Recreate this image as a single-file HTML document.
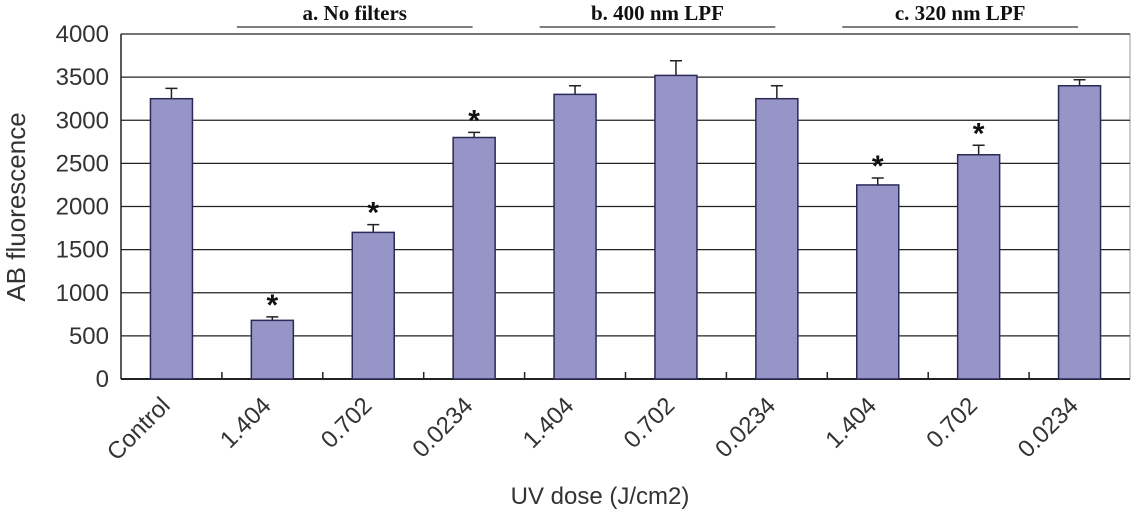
<!DOCTYPE html>
<html><head><meta charset="utf-8"><style>
body{margin:0;background:#fff;}
svg{display:block;font-family:"Liberation Sans",sans-serif;}
</style></head><body>
<svg id="chart" width="1134" height="511"></svg>
<script>
const categories=["Control","1.404","0.702","0.0234","1.404","0.702","0.0234","1.404","0.702","0.0234"];
const values=[3250,680,1700,2800,3300,3520,3250,2250,2600,3400];
const errors=[120,40,90,60,100,170,150,80,110,70];
const significant=[false,true,true,true,false,false,false,true,true,false];
const yTicks=[0,500,1000,1500,2000,2500,3000,3500,4000];
const groups=["a. No filters","b. 400 nm LPF","c. 320 nm LPF"];
const groupStart=[1,4,7];

const svg=document.getElementById('chart');
const NS="http://www.w3.org/2000/svg";
const L=121,R=1130,T=34,B=379,YMAX=4000;
const slot=(R-L)/categories.length;
const y=v=>B-(v/YMAX)*(B-T);
const xc=i=>L+slot*(i+0.5);
function mk(tag,attrs,txt){const e=document.createElementNS(NS,tag);for(const k in attrs)e.setAttribute(k,attrs[k]);if(txt!==undefined)e.textContent=txt;svg.appendChild(e);return e;}

let e=mk('rect',{x:L,y:T,width:R-L,height:B-T,fill:'none',stroke:'#999','stroke-width':1});


yTicks.forEach(t=>{
  const g=mk('line',{x1:L,x2:R,y1:y(t),y2:y(t),stroke:'#222','stroke-width':t===0?2:1.3});
  
  
  const l=mk('text',{x:L-12,y:y(t)+8,'text-anchor':'end','font-size':24,fill:'#333'},t);
  
  
});
e=mk('line',{x1:L,x2:L,y1:T,y2:B,stroke:'#222','stroke-width':1.5});


for(let i=1;i<categories.length;i++){
  const t=mk('line',{x1:L+slot*i,x2:L+slot*i,y1:B-7,y2:B,stroke:'#222','stroke-width':1.5});
  
  
}
const bw=42;
values.forEach((v,i)=>{
  const cx=xc(i);
  const top=y(v+errors[i]);
  const eb=mk('path',{d:`M${cx},${y(v)}V${top}M${cx-6},${top}H${cx+6}`,stroke:'#222','stroke-width':1.5,fill:'none'});
  
  
  const r=mk('rect',{x:cx-bw/2,y:y(v),width:bw,height:B-y(v),fill:'#9794c8',stroke:'#2a2a55','stroke-width':1.5});
  
  
  if(significant[i]){
    const s=mk('text',{x:cx,y:top-2,'text-anchor':'middle','font-size':30,'font-weight':'bold',fill:'#111'},'*');
    
    
  }
  const lx=cx,ly=B+28;
  const lab=mk('text',{x:lx,y:ly,'text-anchor':'end','font-size':24,fill:'#333',transform:`rotate(-45 ${lx} ${ly})`},categories[i]);
  
  
});
groups.forEach((g,k)=>{
  const x1=L+slot*groupStart[k]+15, x2=L+slot*(groupStart[k]+3)-52;
  const ln=mk('line',{x1:x1,x2:x2,y1:27,y2:27,stroke:'#333','stroke-width':1.3});
  
  
  const t=mk('text',{x:(x1+x2)/2,y:20,'text-anchor':'middle','font-size':21,'font-weight':'bold','font-family':'Liberation Serif,serif',fill:'#111'},g);
  
  
});
e=mk('text',{x:0,y:0,'text-anchor':'middle','font-size':26,fill:'#333',transform:'translate(25 207) rotate(-90)'},'AB fluorescence');


e=mk('text',{x:600,y:504,'text-anchor':'middle','font-size':24,fill:'#333'},'UV dose (J/cm2)');


</script>
</body></html>
